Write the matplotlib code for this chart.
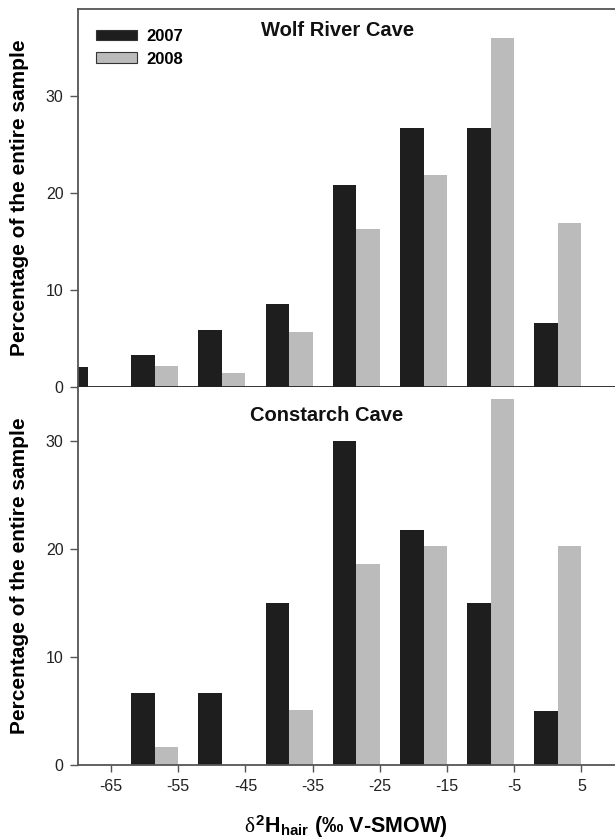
import matplotlib
matplotlib.use("Agg")
import matplotlib.pyplot as plt
from matplotlib.patches import Patch
import numpy as np

plt.rcParams['font.family'] = ['Liberation Sans', 'DejaVu Sans']
plt.rcParams['mathtext.fontset'] = 'custom'
plt.rcParams['mathtext.rm'] = 'Liberation Serif'
plt.rcParams['mathtext.it'] = 'Liberation Serif'
plt.rcParams['mathtext.bf'] = 'Liberation Sans:bold'

# bin centres (permil), bars of 2007 on the left, 2008 on the right
bin_centres = np.array([-68.5, -58.5, -48.5, -38.5, -28.5, -18.5, -8.5, 1.5])
tick_pos = [-65, -55, -45, -35, -25, -15, -5, 5]

# Wolf River Cave
wolf_2007 = [2.0, 3.3, 5.85, 8.5, 20.8, 26.7, 26.7, 6.6]
wolf_2008 = [0.0, 2.1, 1.4, 5.65, 16.3, 21.85, 36.0, 16.9]

# Constarch Cave
cons_2007 = [0.0, 6.67, 6.67, 15.0, 30.0, 21.7, 15.0, 5.0]
cons_2008 = [0.0, 1.67, 0.0, 5.1, 18.6, 20.3, 33.9, 20.3]

black = '#1e1e1e'
grey = '#bbbbbb'
spine_col = '#555555'
bw = 3.5

fig = plt.figure(figsize=(6.15, 8.4), dpi=100)
left = 77.5 / 615
ax1 = fig.add_axes([left, 1 - 386.7 / 840, 1.0 - left, (386.7 - 9) / 840])
ax2 = fig.add_axes([left, 1 - 765 / 840, 1.0 - left, (765 - 386.7) / 840])

panels = [(ax1, wolf_2007, wolf_2008, 39, "Wolf River Cave", 0.4845, 0.942),
          (ax2, cons_2007, cons_2008, 35, "Constarch Cave", 0.4644, 0.925)]

for ax, v07, v08, ytop, title, tx, ty in panels:
    ax.bar(bin_centres - bw, v07, width=bw, align='edge', color=black, zorder=2)
    ax.bar(bin_centres, v08, width=bw, align='edge', color=grey, zorder=2)
    ax.set_xlim(-70, 10)
    ax.set_ylim(0, ytop)
    ax.set_yticks([0, 10, 20, 30])
    ax.spines['right'].set_visible(False)
    for s in ['left', 'top', 'bottom']:
        ax.spines[s].set_color(spine_col)
        ax.spines[s].set_linewidth(1.3)
    ax.tick_params(axis='y', direction='out', length=6, width=1, color=spine_col,
                   labelsize=11.5, labelcolor='#222222', pad=4)
    ax.set_ylabel("Percentage of the entire sample", fontsize=15, fontweight='bold')
    ax.yaxis.set_label_coords(-(77.5 - 29) / 537.5, 0.5)
    ax.text(tx, ty, title, transform=ax.transAxes, ha='center', va='center',
            fontsize=14.5, fontweight='bold', color='#111111')

# top panel: no x ticks, thick zero line
ax1.set_xticks([])
ax1.spines['bottom'].set_color('#222222')
ax1.spines['bottom'].set_linewidth(2.0)
ax1.spines['bottom'].set_zorder(3)

# bottom panel
ax2.spines['top'].set_visible(False)
ax2.set_xticks(tick_pos)
ax2.set_xticklabels([str(t) for t in tick_pos])
ax2.tick_params(axis='x', direction='out', length=5, width=1, color=spine_col,
                labelsize=11.5, labelcolor='#222222', pad=5)
ax2.set_xlabel(r'$\delta^{\bf 2}{\bf H}_{\bf hair}$ (‰ V-SMOW)', fontsize=15.5,
               fontweight='bold', labelpad=14)

handles = [Patch(facecolor=black, edgecolor='#333333', linewidth=0.8, label='2007'),
           Patch(facecolor=grey, edgecolor='#333333', linewidth=0.8, label='2008')]
fig.legend(handles=handles, loc='upper left', bbox_to_anchor=(95.7 / 615, 1 - 29 / 840),
           frameon=False, prop={'weight': 'bold', 'size': 12}, handlelength=2.45,
           handleheight=0.6, handletextpad=0.6, labelspacing=0.45,
           borderpad=0, borderaxespad=0)

fig.savefig("out.png", dpi=100)
